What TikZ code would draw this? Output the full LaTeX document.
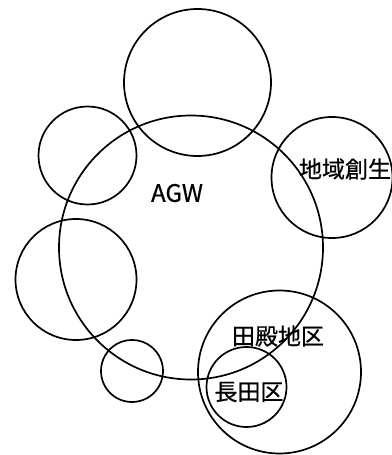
\documentclass[tikz,border=0pt]{standalone}
\usepackage{fontspec}
\setmainfont{Noto Sans CJK JP}[BoldFont={Noto Sans CJK JP}, BoldFeatures={FakeBold=0.6}]
\begin{document}
\begin{tikzpicture}[x=1pt,y=-1pt,
  ring/.style={circle, draw=black, line width=1.7pt, inner sep=0pt, minimum size=#1},
  lbl/.style={inner sep=0pt, font=\fontsize{23pt}{23pt}\selectfont\bfseries}]
\useasboundingbox (0,0) rectangle (391,455);
\node[ring=264pt] (agw) at (191,247.5) {};
\node[ring=147pt] (top) at (197.5,82.5) {};
\node[ring=98pt] (lu) at (87.5,155.5) {};
\node[ring=121pt] (reg) at (332,177.5) {};
\node[ring=121pt] (ll) at (76,279.5) {};
\node[ring=62pt] (sm) at (132,371) {};
\node[ring=163pt] (den) at (279.5,372) {};
\node[ring=80pt] (nag) at (246.5,387) {};
\node[lbl, font=\fontsize{24pt}{24pt}\selectfont\bfseries] (tagw) at (177,193) {AGW};
\node[lbl] (treg) at (345,169) {地域創生};
\node[lbl] (tden) at (278,336) {田殿地区};
\node[lbl] (tnag) at (249,392) {長田区};
\end{tikzpicture}
\end{document}
